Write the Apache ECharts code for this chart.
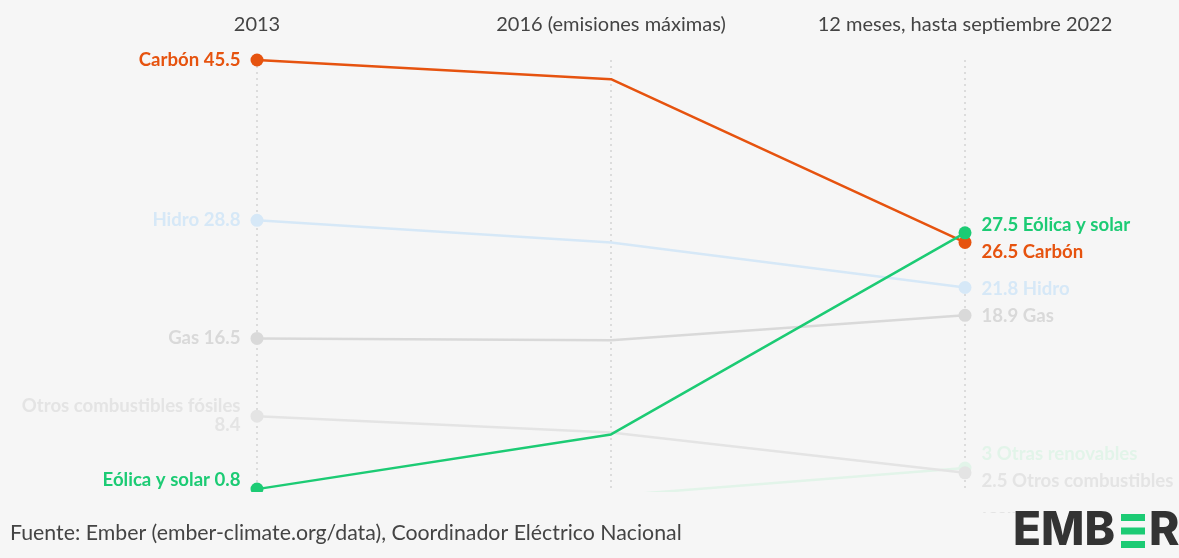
<!DOCTYPE html>
<html>
<head>
<meta charset="utf-8">
<script src="https://cdn.jsdelivr.net/npm/echarts@6/dist/echarts.min.js"></script>
<style>
html,body{margin:0;padding:0;background:#f6f6f6;}
#c{width:1179px;height:558px;}
</style>
</head>
<body>
<div id="c"></div>
<script>
const categories = ['2013', '2016 (emisiones máximas)', '12 meses, hasta septiembre 2022'];
const seriesNames = ['Otras renovables', 'Otros combustibles fósiles', 'Gas', 'Hidro', 'Carbón', 'Eólica y solar'];
const otrasRenovables = [0.2, 0.1, 3];
const otrosFosiles = [8.4, 6.7, 2.5];
const gas = [16.5, 16.3, 18.9];
const hidro = [28.8, 26.5, 21.8];
const carbon = [45.5, 43.5, 26.5];
const eolica = [0.8, 6.5, 27.5];
const sourceText = 'Fuente: Ember (ember-climate.org/data), Coordinador Eléctrico Nacional';

const colors = ['#e2f4e9', '#e4e4e4', '#d9d9d9', '#d6e8f7', '#e6530f', '#1ccb74'];
const leftText = ['', 'Otros combustibles fósiles\n8.4', 'Gas 16.5', 'Hidro 28.8', 'Carbón 45.5', 'Eólica y solar 0.8'];
const leftOffset = [[0, 0], [0, -1], [0, 0], [0, 0], [0, 0], [0, -9]];
const rightText = ['3 Otras renovables', '2.5 Otros combustibles\nfósiles', '18.9 Gas', '21.8 Hidro', '26.5 Carbón', '27.5 Eólica y solar'];
const rightOffset = [[0, -14], [0, 21], [0, 1], [0, 1], [0, 10], [0, -8]];
const values = [otrasRenovables, otrosFosiles, gas, hidro, carbon, eolica];

const labelFont = { fontFamily: 'Lato', fontWeight: 'bold', fontSize: 18.6 };

const chart = echarts.init(document.getElementById('c'));
const series = values.map((arr, i) => ({
  name: seriesNames[i],
  type: 'line',
  clip: true,
  symbol: 'circle',
  symbolSize: 13,
  lineStyle: { color: colors[i], width: 2.5 },
  itemStyle: { color: colors[i] },
  emphasis: { disabled: true },
  z: 2 + i,
  data: arr.map((v, j) => {
    const item = { value: v };
    if (j === 1) item.symbol = 'none';
    if (j === 0 && leftText[i]) {
      item.label = Object.assign({ show: true, position: 'left', distance: 10, formatter: leftText[i], align: 'right',
        offset: leftOffset[i], color: colors[i], lineHeight: 19 }, labelFont);
    } else if (j === 2) {
      item.label = Object.assign({ show: true, position: 'right', distance: 10, formatter: rightText[i], align: 'left',
        offset: rightOffset[i], color: colors[i], lineHeight: 26 }, labelFont);
    }
    return item;
  })
}));

chart.setOption({
  animation: false,
  backgroundColor: '#f6f6f6',
  grid: { left: 257, right: 214, top: 60, bottom: 66 },
  xAxis: {
    type: 'category', data: categories, boundaryGap: false, position: 'top',
    axisLine: { show: false }, axisTick: { show: false },
    axisLabel: { interval: 0, margin: 25, color: '#444', fontFamily: 'Lato', fontSize: 20, hideOverlap: false },
    splitLine: { show: true, interval: 0, lineStyle: { color: '#d4d4d4', type: [2, 4], width: 1.5 } }
  },
  yAxis: {
    type: 'value', min: 0.5, max: 45.5, show: false, splitLine: { show: false }
  },
  series: series,
  graphic: [
    { type: 'rect', z: 100, shape: { x: 0, y: 492, width: 1179, height: 20 }, style: { fill: '#f6f6f6' } },
    { type: 'text', z: 101, left: 10, top: 523, style: { text: sourceText, fill: '#444', font: '21.3px Lato' } },
    { type: 'text', z: 101, left: 1013, top: 508, style: { text: 'EMB', fill: '#333', font: '800 46px Inter' } },
    { type: 'rect', z: 101, shape: { x: 1121, y: 514, width: 24, height: 7 }, style: { fill: '#1ccb74' } },
    { type: 'rect', z: 101, shape: { x: 1121, y: 527.5, width: 24, height: 7 }, style: { fill: '#1ccb74' } },
    { type: 'rect', z: 101, shape: { x: 1121, y: 541, width: 24, height: 7 }, style: { fill: '#1ccb74' } },
    { type: 'text', z: 101, left: 1149, top: 508, style: { text: 'R', fill: '#333', font: '800 46px Inter' } }
  ]
});
</script>
</body>
</html>
